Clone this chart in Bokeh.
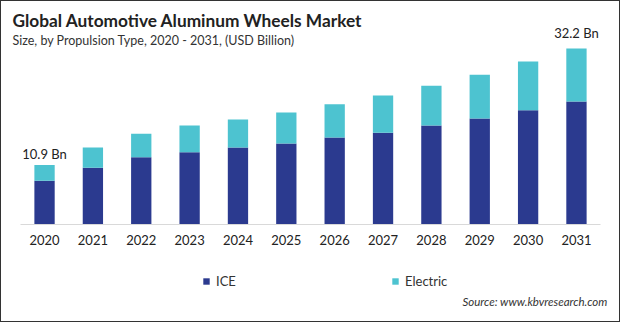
from bokeh.plotting import figure
from bokeh.layouts import column
from bokeh.models import (FactorRange, Range1d, ColumnDataSource, Label, Legend,
                          LegendItem)
from bokeh.core.properties import value
from bokeh.embed import file_html
from bokeh.resources import INLINE

years = ["2020", "2021", "2022", "2023", "2024", "2025",
         "2026", "2027", "2028", "2029", "2030", "2031"]
ice = [8.0, 10.4, 12.3, 13.2, 14.1, 14.8, 15.9, 16.8, 18.1, 19.4, 20.9, 22.5]
electric = [2.9, 3.7, 4.3, 4.9, 5.1, 5.7, 6.1, 6.8, 7.3, 8.0, 8.9, 9.7]
series = ["ICE", "Electric"]
colors = ["#2b3a8f", "#4dc3d0"]
first_label = "10.9 Bn"
last_label = "32.2 Bn"
title_text = "Global Automotive Aluminum Wheels Market"
subtitle_text = "Size, by Propulsion Type, 2020 - 2031, (USD Billion)"
source_text = "Source: www.kbvresearch.com"

FONT = "Lato"

src = ColumnDataSource(dict(year=years, ICE=ice, Electric=electric))

# ---- main chart ----
p = figure(width=618, height=253,
           x_range=FactorRange(*years, range_padding=0.065),
           y_range=Range1d(0, 40.8), output_backend="svg", toolbar_location=None,
           y_axis_location=None,
           min_border_left=0, min_border_right=0, min_border_top=0,
           min_border_bottom=30)
p.outline_line_color = None
p.xgrid.grid_line_color = None
p.ygrid.grid_line_color = None

r = p.vbar_stack(series, x="year", width=0.42, color=colors, source=src,
                 line_color=None)

ax = p.xaxis[0]
ax.bounds = (0, len(years))
ax.axis_line_color = "#d9d9d9"
ax.axis_line_width = 1
ax.major_tick_line_color = None
ax.minor_tick_line_color = None
ax.major_tick_out = 0
ax.major_tick_in = 0
ax.major_label_standoff = 10
ax.major_label_text_font = FONT
ax.major_label_text_font_size = "13px"
ax.major_label_text_color = "#222222"

lab_src1 = ColumnDataSource(dict(x=[years[0]], y=[ice[0] + electric[0]], t=[first_label]))
lab_src2 = ColumnDataSource(dict(x=[years[-1]], y=[ice[-1] + electric[-1]], t=[last_label]))
p.text(x="x", y="y", text="t", source=lab_src1, text_align="center",
       text_baseline="bottom", y_offset=-3, text_font=value(FONT),
       text_font_size="13px", text_color="#222222")
p.text(x="x", y="y", text="t", source=lab_src2, text_align="center",
       text_baseline="bottom", y_offset=-8, text_font=value(FONT),
       text_font_size="13px", text_color="#222222")

p.add_layout(Label(x=11, y=204, x_units="screen", y_units="screen", text=title_text,
                   text_font=FONT, text_font_size="17.3px", text_font_style="bold",
                   text_color="#222222", text_baseline="alphabetic"))
p.add_layout(Label(x=11, y=184, x_units="screen", y_units="screen", text=subtitle_text,
                   text_font=FONT, text_font_size="12.5px",
                   text_color="#333333", text_baseline="alphabetic"))

# ---- legend / source strip ----
q = figure(width=618, height=67, x_range=Range1d(0, 1), y_range=Range1d(0, 1),
           output_backend="svg", toolbar_location=None,
           x_axis_location=None, y_axis_location=None,
           min_border_left=0, min_border_right=0, min_border_top=0,
           min_border_bottom=0)
q.outline_line_color = None
q.xgrid.grid_line_color = None
q.ygrid.grid_line_color = None

nan = float("nan")
key = [q.vbar(x=[nan], top=[nan], width=0.1, color=c, line_color=None) for c in colors]
for rend, name, loc in [(key[0], series[0], (201, 32)), (key[1], series[1], (390, 32))]:
    lg = Legend(items=[LegendItem(label=name, renderers=[rend])], location=loc,
                orientation="horizontal", glyph_width=8, glyph_height=8,
                label_standoff=6, padding=0, margin=0, spacing=0,
                border_line_color=None, background_fill_alpha=0,
                label_text_font=FONT, label_text_font_size="13px",
                label_text_color="#333333", label_height=16)
    q.add_layout(lg, "center")

q.add_layout(Label(x=606, y=20, x_units="screen", y_units="screen", text=source_text,
                   text_font=FONT, text_font_size="11.5px", text_font_style="italic",
                   text_color="#333333", text_align="right", text_baseline="middle"))

layout = column(p, q, spacing=0, styles={"border": "1px solid #333333"})

open("out.html", "w").write(file_html(layout, INLINE))
